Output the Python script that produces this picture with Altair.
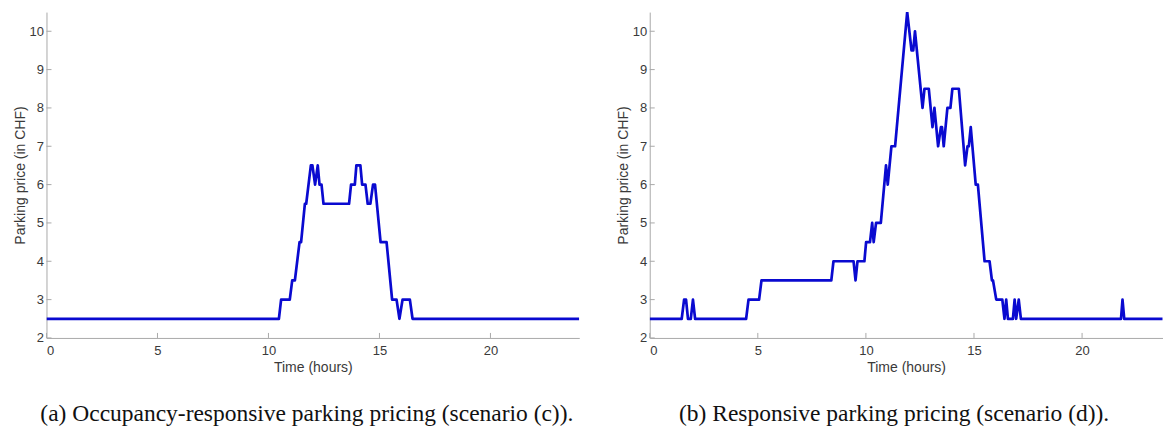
import altair as alt
import pandas as pd

# ---- data ----
left_hours = [0, 10.47, 10.57, 10.96, 11.07, 11.19, 11.40, 11.47, 11.64, 11.70, 11.91, 11.98,
              12.10, 12.22, 12.30, 12.39, 12.48, 13.63, 13.72, 13.89, 13.96, 14.14, 14.22,
              14.37, 14.47, 14.59, 14.71, 14.80, 15.05, 15.32, 15.57, 15.77, 15.90, 16.04,
              16.37, 16.49, 24]
left_price = [2.5, 2.5, 3.0, 3.0, 3.5, 3.5, 4.5, 4.5, 5.5, 5.5, 6.5, 6.5,
              6.0, 6.5, 6.0, 6.0, 5.5, 5.5, 6.0, 6.0, 6.5, 6.5, 6.0,
              6.0, 5.5, 5.5, 6.0, 6.0, 4.5, 4.5, 3.0, 3.0, 2.5, 3.0,
              3.0, 2.5, 2.5]

right_hours = [0, 1.48, 1.59, 1.68, 1.77, 1.90, 2.00, 2.10, 4.46, 4.57, 5.06, 5.17,
               8.40, 8.50, 9.43, 9.52, 9.61, 9.93, 10.01, 10.19, 10.29, 10.36, 10.47, 10.69,
               10.93, 11.01, 11.18, 11.35, 11.91, 12.11, 12.19, 12.27, 12.62, 12.71, 12.91,
               13.08, 13.17, 13.34, 13.47, 13.52, 13.60, 13.77, 13.91, 14.00, 14.30,
               14.59, 14.70, 14.76, 14.85, 15.08, 15.18, 15.49, 15.72, 15.83, 15.88,
               16.03, 16.31, 16.41, 16.49, 16.57, 16.80, 16.88, 16.95, 17.07, 17.17,
               21.80, 21.87, 21.95, 24]
right_price = [2.5, 2.5, 3.0, 3.0, 2.5, 2.5, 3.0, 2.5, 2.5, 3.0, 3.0, 3.5,
               3.5, 4.0, 4.0, 3.5, 4.0, 4.0, 4.5, 4.5, 5.0, 4.5, 5.0, 5.0,
               6.5, 6.0, 7.0, 7.0, 10.5, 9.5, 9.5, 10.0, 8.0, 8.5, 8.5,
               7.5, 8.0, 7.0, 7.5, 7.5, 7.0, 8.0, 8.0, 8.5, 8.5,
               6.5, 7.0, 7.0, 7.5, 6.0, 6.0, 4.0, 4.0, 3.5, 3.5,
               3.0, 3.0, 2.5, 3.0, 2.5, 2.5, 3.0, 2.5, 3.0, 2.5,
               2.5, 3.0, 2.5, 2.5]

x_ticks = [0, 5, 10, 15, 20]
y_ticks = [2, 3, 4, 5, 6, 7, 8, 9, 10]
caption_a = "(a) Occupancy-responsive parking pricing (scenario (c))."
caption_b = "(b) Responsive parking pricing (scenario (d))."

LINE = "#0a0ad0"
AXIS = "#a9a9a9"
TXT = "#3a3a3a"
H = 326


def panel(hours, price, caption, width, xmax, cap_dx):
    df = pd.DataFrame({"t": hours, "p": price})
    xs = alt.Scale(domain=[0, xmax], nice=False, zero=False)
    ys = alt.Scale(domain=[2, 10.5], nice=False, zero=False)
    xax = alt.Axis(values=x_ticks, title="Time (hours)", format="d",
                   labelPadding=7, titlePadding=3)
    yax = alt.Axis(values=y_ticks, title="Parking price (in CHF)", format="d",
                   labelPadding=3, titlePadding=2)
    line = alt.Chart(df).mark_line(color=LINE, strokeWidth=2.7, clip=True,
                                   strokeJoin="round").encode(
        x=alt.X("t:Q", scale=xs, axis=xax),
        y=alt.Y("p:Q", scale=ys, axis=yax),
    )
    ytick = alt.Chart(pd.DataFrame({"p": y_ticks})).mark_rule(
        color=AXIS, strokeWidth=1).encode(
        y=alt.Y("p:Q", scale=ys, axis=yax),
        x=alt.value(0), x2=alt.value(5))
    xtick = alt.Chart(pd.DataFrame({"t": x_ticks})).mark_rule(
        color=AXIS, strokeWidth=1).encode(
        x=alt.X("t:Q", scale=xs, axis=xax),
        y=alt.value(H), y2=alt.value(H - 5))
    return alt.layer(line, ytick, xtick).properties(
        width=width, height=H,
        title=alt.TitleParams(caption, orient="bottom", anchor="middle",
                              font="Liberation Serif", fontSize=23.5,
                              fontWeight="normal", color="#111111",
                              offset=27, dx=cap_dx))


left = panel(left_hours, left_price, caption_a, 533, 24, -6)
right = panel(right_hours, right_price, caption_b, 513, 23.72, -12)

chart = alt.hconcat(left, right, spacing=36.5).properties(
    padding={"left": 12.5, "top": 12, "right": 0, "bottom": 0},
    background="white",
).configure_view(strokeWidth=0).configure_axis(
    domainColor=AXIS, domainWidth=1, ticks=False, grid=False,
    labelColor=TXT, titleColor=TXT, labelFont="Liberation Sans",
    titleFont="Liberation Sans", labelFontSize=13, titleFontSize=14,
    titleFontWeight="normal",
)

chart.save("out.html", embed_options={"renderer": "svg", "actions": False})
